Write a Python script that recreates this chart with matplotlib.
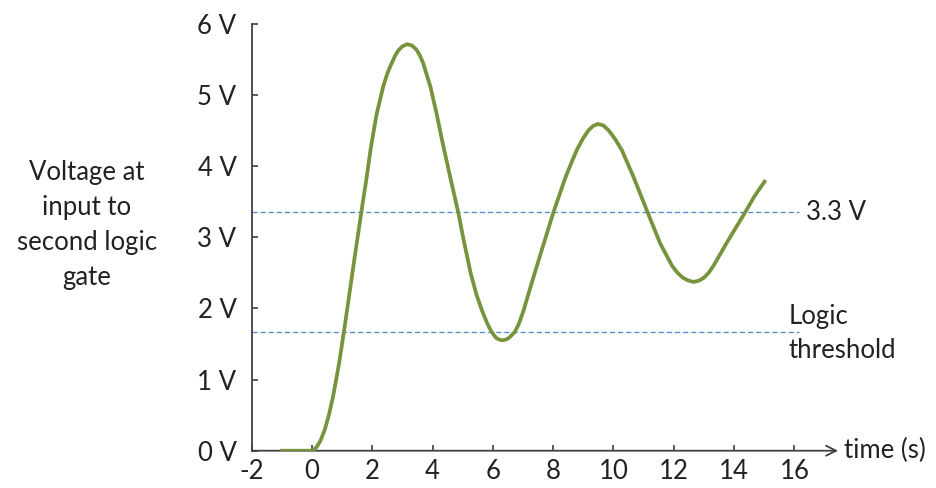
import matplotlib.pyplot as plt

plt.rcParams['font.family'] = ['Lato', 'DejaVu Sans']
plt.rcParams['axes.unicode_minus'] = False

# points
t = [-1.0, 0.0, 0.06, 0.15, 0.28, 0.42, 0.56, 0.70, 0.90, 1.07, 1.24, 1.41, 1.55, 1.69,
     1.80, 1.95, 2.14, 2.36, 2.50, 2.64, 2.76, 2.86, 3.00, 3.16, 3.32, 3.47, 3.58, 3.69,
     3.93, 4.13, 4.33, 4.57, 4.85, 5.02, 5.26, 5.45, 5.63, 5.80, 5.93, 6.04, 6.12, 6.22,
     6.32, 6.42, 6.52, 6.62, 6.73, 6.86, 7.01, 7.34, 7.68, 8.01, 8.40, 8.60, 8.78, 8.98,
     9.17, 9.32, 9.48, 9.66, 9.84, 10.05, 10.28, 10.66, 11.13, 11.55, 11.94, 12.12, 12.30,
     12.48, 12.66, 12.84, 13.00, 13.16, 13.32, 13.77, 14.37, 14.67, 15.01]
volts = [0.0, 0.0, 0.01, 0.05, 0.14, 0.29, 0.50, 0.76, 1.23, 1.70, 2.20, 2.70, 3.10, 3.50,
         3.80, 4.25, 4.72, 5.11, 5.30, 5.44, 5.55, 5.62, 5.68, 5.71, 5.69, 5.63, 5.55, 5.44,
         5.11, 4.74, 4.33, 3.87, 3.35, 2.98, 2.50, 2.20, 1.98, 1.80, 1.69, 1.62, 1.58, 1.56,
         1.55, 1.56, 1.58, 1.62, 1.67, 1.78, 1.96, 2.43, 2.90, 3.35, 3.83, 4.04, 4.22, 4.38,
         4.50, 4.56, 4.59, 4.57, 4.50, 4.38, 4.22, 3.85, 3.35, 2.91, 2.60, 2.50, 2.43,
         2.39, 2.37, 2.39, 2.43, 2.50, 2.60, 2.93, 3.35, 3.57, 3.78]

x_ticks = [-2, 0, 2, 4, 6, 8, 10, 12, 14, 16]
y_ticks = [0, 1, 2, 3, 4, 5, 6]
y_labels = ['0 V', '1 V', '2 V', '3 V', '4 V', '5 V', '6 V']
high_level = 3.35
threshold = 1.67
line_end = 16.15

text_col = '#222222'
axis_col = '#404040'
fs = 18.5

fig = plt.figure(figsize=(9.37, 4.88), dpi=100)
ax = fig.add_axes([0.2686, 0.0764, 0.7079, 0.8754])
ax.set_xlim(-2, 20)
ax.set_ylim(0, 6)

ax.plot([-2, line_end], [high_level, high_level], color='#4a86d0', lw=0.9, dashes=(4, 2.5))
ax.plot([-2, line_end], [threshold, threshold], color='#4a86d0', lw=0.9, dashes=(4, 2.5))
ax.plot(t, volts, color='#77933c', lw=2.7, solid_joinstyle='round', zorder=5)

for s in ['top', 'right', 'bottom']:
    ax.spines[s].set_visible(False)
ax.spines['left'].set_color(axis_col)
ax.spines['left'].set_linewidth(1.3)

ax.annotate('', xy=(17.45, 0), xytext=(-2, 0),
            arrowprops=dict(arrowstyle='->', color=axis_col, lw=1.3,
                            shrinkA=0, shrinkB=0, mutation_scale=18),
            annotation_clip=False)

ax.set_xticks(x_ticks)
ax.set_xticklabels([str(v) for v in x_ticks])
ax.set_yticks(y_ticks)
ax.set_yticklabels(y_labels)
ax.tick_params(axis='both', direction='in', length=4, width=1.2, color=axis_col,
               labelsize=fs, labelcolor=text_col)
ax.tick_params(axis='y', pad=11)
ax.tick_params(axis='x', pad=6)

ax.text(17.65, 0, 'time (s)', fontsize=fs, color=text_col, va='center', ha='left')
ax.text(16.4, high_level, '3.3 V', fontsize=fs, color=text_col, va='center', ha='left')
ax.text(15.8, 1.64, 'Logic\nthreshold', fontsize=fs, color=text_col, va='center',
        ha='left', linespacing=1.45)

fig.text(87 / 937, 1 - 225 / 488, 'Voltage at\ninput to\nsecond logic\ngate', fontsize=fs,
         color=text_col, ha='center', va='center', linespacing=1.5)

fig.savefig('out.png', dpi=100)
